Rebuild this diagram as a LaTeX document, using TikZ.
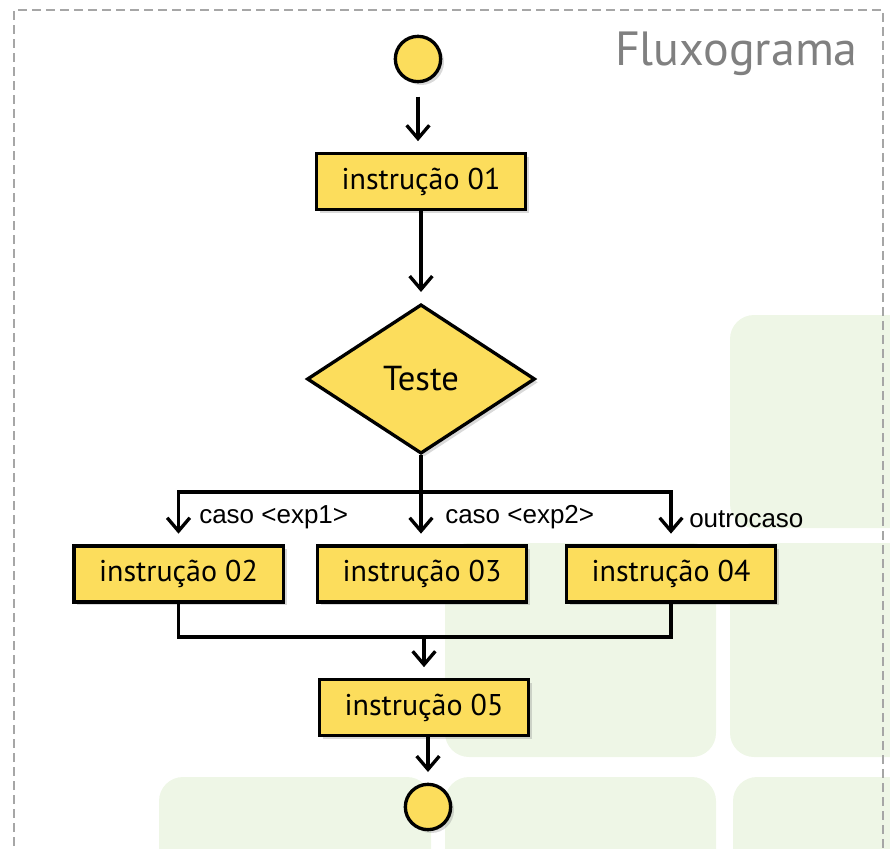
\documentclass[tikz,border=0pt]{standalone}
\usepackage{fontspec}
\setmainfont{Liberation Sans}
\newfontfamily\caixafont{PT Sans}
\usepackage{tikz}
\usetikzlibrary{shapes.geometric,arrows.meta,shadows}

\definecolor{amarelo}{HTML}{FCDD5C}
\definecolor{fundo}{HTML}{EEF6E6}
\definecolor{moldura}{HTML}{A6A6A6}
\definecolor{titulo}{HTML}{808080}

\tikzset{
  bloco/.style={draw, line width=2.5pt, fill=amarelo,
    drop shadow={opacity=0.3, shadow xshift=2.5pt, shadow yshift=-2.5pt},
    font=\caixafont\fontsize{22.5}{26}\selectfont, inner sep=0pt},
  instr/.style={bloco, rectangle, minimum width=157pt, minimum height=42pt},
  teste/.style={bloco, diamond, minimum width=171pt, minimum height=112pt,
    font=\caixafont\fontsize{26}{30}\selectfont},
  terminal/.style={bloco, circle, minimum size=34pt},
  linha/.style={line width=2.5pt},
  seta/.style={linha, -{Straight Barb[length=10pt,width=17pt]}, shorten >=8pt},
  rotulo/.style={font=\fontsize{19.5}{22}\selectfont, anchor=west, inner sep=0pt},
}

\begin{document}
\begin{tikzpicture}[x=0.75pt,y=-0.75pt]
\useasboundingbox (0,0) rectangle (890,849);
\clip (0,0) rectangle (890,849);

% fundo do slide
\foreach \xa/\ya/\xb/\yb in {730/315/920/528, 445/543/716/757, 730/543/920/757,
                            159/777/431/880, 445/777/716/880, 733/777/920/880}
  \fill [fundo, rounded corners=18pt] (\xa,\ya) rectangle (\xb,\yb);

\draw [moldura, line width=1.5pt, dash pattern=on 6.5pt off 4pt]
  (14,860) -- (14,10) -- (883,10) -- (883,860);
\node [titulo, anchor=east, inner sep=0pt, font=\caixafont\fontsize{36}{40}\selectfont]
  (tit) at (858,54) {Fluxograma};

% fluxograma
\node [terminal] (inicio) at (418,59) {};
\node [instr] (i1) at (421,181.5) {instrução 01};
\node [teste] (tst) at (421,379) {Teste};
\node [instr] (i2) at (178.5,574) {instrução 02};
\node [instr] (i3) at (422,574) {instrução 03};
\node [instr] (i4) at (671,574) {instrução 04};
\node [instr] (i5) at (424,707.5) {instrução 05};
\node [terminal] (fim) at (428,807) {};

\coordinate (desvio) at (421,492);
\coordinate (junta) at (424,637);

\draw [seta, shorten <=10pt] (inicio.south) -- (inicio.south |- i1.north);
\draw [seta] (i1.south) -- (tst.north);
\draw [linha] (tst.south) -- (desvio);
\draw [seta] (desvio) -| (i2.north);
\draw [seta] (desvio) -| (i4.north);
\draw [seta] (desvio) -- (desvio |- i3.north);

\node [rotulo] (r1) at (199,517) {caso <exp1>};
\node [rotulo] (r2) at (445,517) {caso <exp2>};
\node [rotulo] (r3) at (689,519) {outrocaso};

\draw [linha] (i2.south) |- (junta) -| (i4.south);
\draw [seta] (junta) -- (junta |- i5.north);
\draw [seta] (fim |- i5.south) -- (fim.north);
\end{tikzpicture}
\end{document}
